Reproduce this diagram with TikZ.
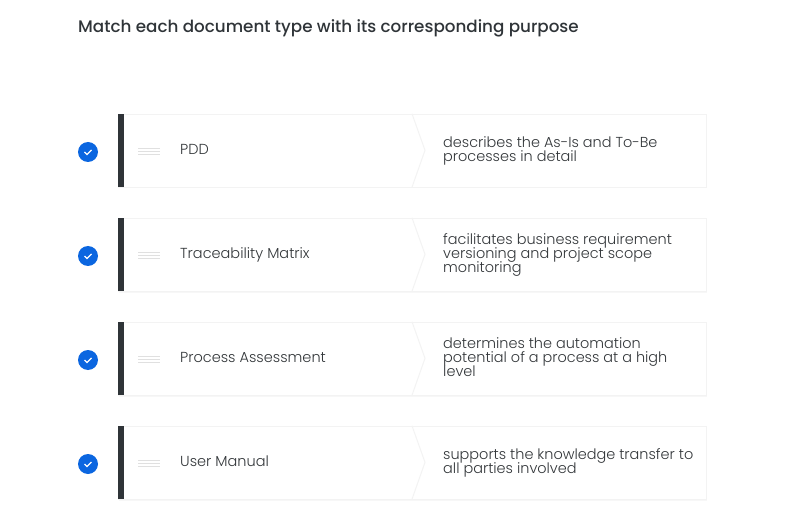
\documentclass[tikz,border=0pt]{standalone}
\usepackage{fontspec}
\setmainfont{Poppins}
\newfontfamily\lightfont{Poppins Light}
\newfontfamily\titlefont{Poppins Medium}
\definecolor{barcol}{HTML}{2F3438}
\definecolor{tickcol}{HTML}{0B66E0}
\definecolor{edgecol}{HTML}{F3F3F3}
\definecolor{textcol}{HTML}{33373A}
\usetikzlibrary{shadows}
\setlength{\lineskiplimit}{-8pt}

\begin{document}
\begin{tikzpicture}[x=1pt,y=-1pt]

\tikzset{card/.style = {shape=rectangle,draw=edgecol,fill=white,minimum width=588pt,minimum height=73pt,inner sep=0pt,
  drop shadow={shadow xshift=0.5pt,shadow yshift=-1.5pt,fill=black,opacity=0.03}}}
\tikzset{bar/.style = {shape=rectangle,fill=barcol,minimum width=6pt,minimum height=73pt,inner sep=0pt}}
\tikzset{tickdot/.style = {shape=circle,fill=tickcol,minimum size=20pt,inner sep=0pt}}
\tikzset{doctype/.style = {anchor=base west,inner sep=0pt,text=textcol,font=\lightfont\fontsize{14.5}{14}\selectfont}}
\tikzset{purpose/.style = {anchor=north west,align=left,inner sep=0pt,text=textcol,font=\lightfont\fontsize{14.45}{14}\selectfont}}
\tikzset{chevron/.style = {draw=edgecol,line width=1pt}}
\tikzset{grip/.style = {draw=black!12,line width=0.8pt}}
\tikzset{checkmark/.style = {draw=white,line width=1.2pt}}
\useasboundingbox (0,0) rectangle (810,518);

\node[anchor=west,inner sep=0pt,text=barcol,font=\titlefont\fontsize{16.75}{20}\selectfont] (title) at (78,28) {Match each document type with its corresponding purpose};

%cards
\node[card] (card1) at (412,150.5) {};
\node[card] (card2) at (412,254.5) {};
\node[card] (card3) at (412,358.5) {};
\node[card] (card4) at (412,462.5) {};
\node[bar] (bar1) at (121,150.5) {};
\node[bar] (bar2) at (121,254.5) {};
\node[bar] (bar3) at (121,358.5) {};
\node[bar] (bar4) at (121,462.5) {};
\draw [chevron] (card1.north) -- ++(13,36.5) -- (card1.south);
\draw [chevron] (card2.north) -- ++(13,36.5) -- (card2.south);
\draw [chevron] (card3.north) -- ++(13,36.5) -- (card3.south);
\draw [chevron] (card4.north) -- ++(13,36.5) -- (card4.south);

%ticks
\node[tickdot] (tick1) at (88,152) {};
\node[tickdot] (tick2) at (88,256) {};
\node[tickdot] (tick3) at (88,360) {};
\node[tickdot] (tick4) at (88,464) {};
\draw [checkmark] (tick1.center) ++(-3.5,0) -- ++(2.5,2.5) -- ++(4.5,-4.5);
\draw [checkmark] (tick2.center) ++(-3.5,0) -- ++(2.5,2.5) -- ++(4.5,-4.5);
\draw [checkmark] (tick3.center) ++(-3.5,0) -- ++(2.5,2.5) -- ++(4.5,-4.5);
\draw [checkmark] (tick4.center) ++(-3.5,0) -- ++(2.5,2.5) -- ++(4.5,-4.5);

%grips
\draw [grip] (138,148) -- ++(22,0) (138,151) -- ++(22,0) (138,154) -- ++(22,0);
\draw [grip] (138,252) -- ++(22,0) (138,255) -- ++(22,0) (138,258) -- ++(22,0);
\draw [grip] (138,356) -- ++(22,0) (138,359) -- ++(22,0) (138,362) -- ++(22,0);
\draw [grip] (138,460) -- ++(22,0) (138,463) -- ++(22,0) (138,466) -- ++(22,0);

%labels
\node[doctype] (doctype1) at (180,154.5) {PDD};
\node[doctype] (doctype2) at (180,258.5) {Traceability Matrix};
\node[doctype] (doctype3) at (180,362.5) {Process Assessment};
\node[doctype] (doctype4) at (180,466.5) {User Manual};
\node[purpose] (purpose1) at (443,136) {describes the As-Is and To-Be\\processes in detail};
\node[purpose] (purpose2) at (443,233) {facilitates business requirement\\versioning and project scope\\monitoring};
\node[purpose] (purpose3) at (443,337) {determines the automation\\potential of a process at a high\\level};
\node[purpose] (purpose4) at (443,448) {supports the knowledge transfer to\\all parties involved};

\end{tikzpicture}
\end{document}
